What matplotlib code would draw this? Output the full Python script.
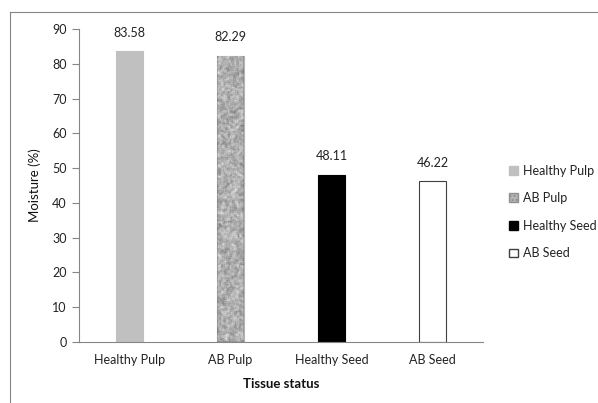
import numpy as np
import matplotlib
matplotlib.use("Agg")
import matplotlib.pyplot as plt
from matplotlib.patches import Patch
from matplotlib.lines import Line2D

categories = ["Healthy Pulp", "AB Pulp", "Healthy Seed", "AB Seed"]
values = [83.58, 82.29, 48.11, 46.22]
labels = ["83.58", "82.29", "48.11", "46.22"]
yticks = [0, 10, 20, 30, 40, 50, 60, 70, 80, 90]

plt.rcParams['font.family'] = ['Lato', 'DejaVu Sans']
W, H = 598, 403
fig = plt.figure(figsize=(W/100, H/100), dpi=100)
ax = fig.add_axes([79/W, 1-342/H, (483-79)/W, (342-29)/H])

x = np.arange(len(categories))
face = ["#c0c0c0", "#b4b4b4", "#000000", "#ffffff"]
edge = ["#c0c0c0", "#b4b4b4", "#000000", "#404040"]
bars = ax.bar(x, values, width=0.26, color=face, edgecolor=edge, linewidth=0.8, zorder=2)

# granite texture for AB Pulp bar (styling only)
rng = np.random.default_rng(3)
n = rng.random((300, 30))
k = np.ones(3) / 3
n = np.apply_along_axis(lambda r: np.convolve(r, k, mode='same'), 0, n)
n = np.apply_along_axis(lambda r: np.convolve(r, k, mode='same'), 1, n)
n = (n - n.min()) / (n.max() - n.min())
b = bars[1]
bx0, bw, bh = b.get_x(), b.get_width(), b.get_height()
im = ax.imshow(n, cmap='gray', vmin=-1.1, vmax=1.3, extent=[bx0, bx0 + bw, 0, bh],
               aspect='auto', zorder=3, interpolation='nearest')
im.set_clip_path(b)

for xi, v, lab in zip(x, values, labels):
    ax.annotate(lab, (xi, v), xytext=(0, 9), textcoords='offset points',
                ha='center', va='bottom', fontsize=9, color='#222222')

ax.set_xlim(-0.5, 3.5)
ax.set_ylim(0, 90)
ax.set_yticks(yticks)
ax.set_xticks(x)
ax.set_xticklabels(categories, fontsize=9, color='#222222')
ax.tick_params(axis='y', labelsize=9, colors='#868686', labelcolor='#222222', length=5, width=0.8, pad=4)
ax.tick_params(axis='x', length=0, pad=9)
for s in ['top', 'right']:
    ax.spines[s].set_visible(False)
for s in ['left', 'bottom']:
    ax.spines[s].set_color('#868686')
    ax.spines[s].set_linewidth(0.8)
ax.set_ylabel("Moisture (%)", fontsize=9.5, color='#111111', labelpad=8)
ax.set_xlabel("Tissue status", fontsize=9.5, fontweight='bold', color='#111111', labelpad=8)

handles = [Patch(facecolor="#c0c0c0", edgecolor="#c0c0c0"),
           Patch(facecolor="#b4b4b4", edgecolor="#909090", hatch='....'),
           Patch(facecolor="#000000", edgecolor="#000000"),
           Patch(facecolor="#ffffff", edgecolor="#404040")]
fig.legend(handles, categories, loc='center left', bbox_to_anchor=(498/W, 1-212/H),
           frameon=False, fontsize=9, handlelength=0.7, handleheight=0.7,
           handletextpad=0.4, labelspacing=1.25, labelcolor='#222222')

# outer border
fig.add_artist(Line2D([10/W, 10/W], [0, 1-12/H], color='#868686', lw=0.8, transform=fig.transFigure))
fig.add_artist(Line2D([10/W, 1], [1-12/H, 1-12/H], color='#868686', lw=0.8, transform=fig.transFigure))

fig.savefig("out.png", dpi=100)
